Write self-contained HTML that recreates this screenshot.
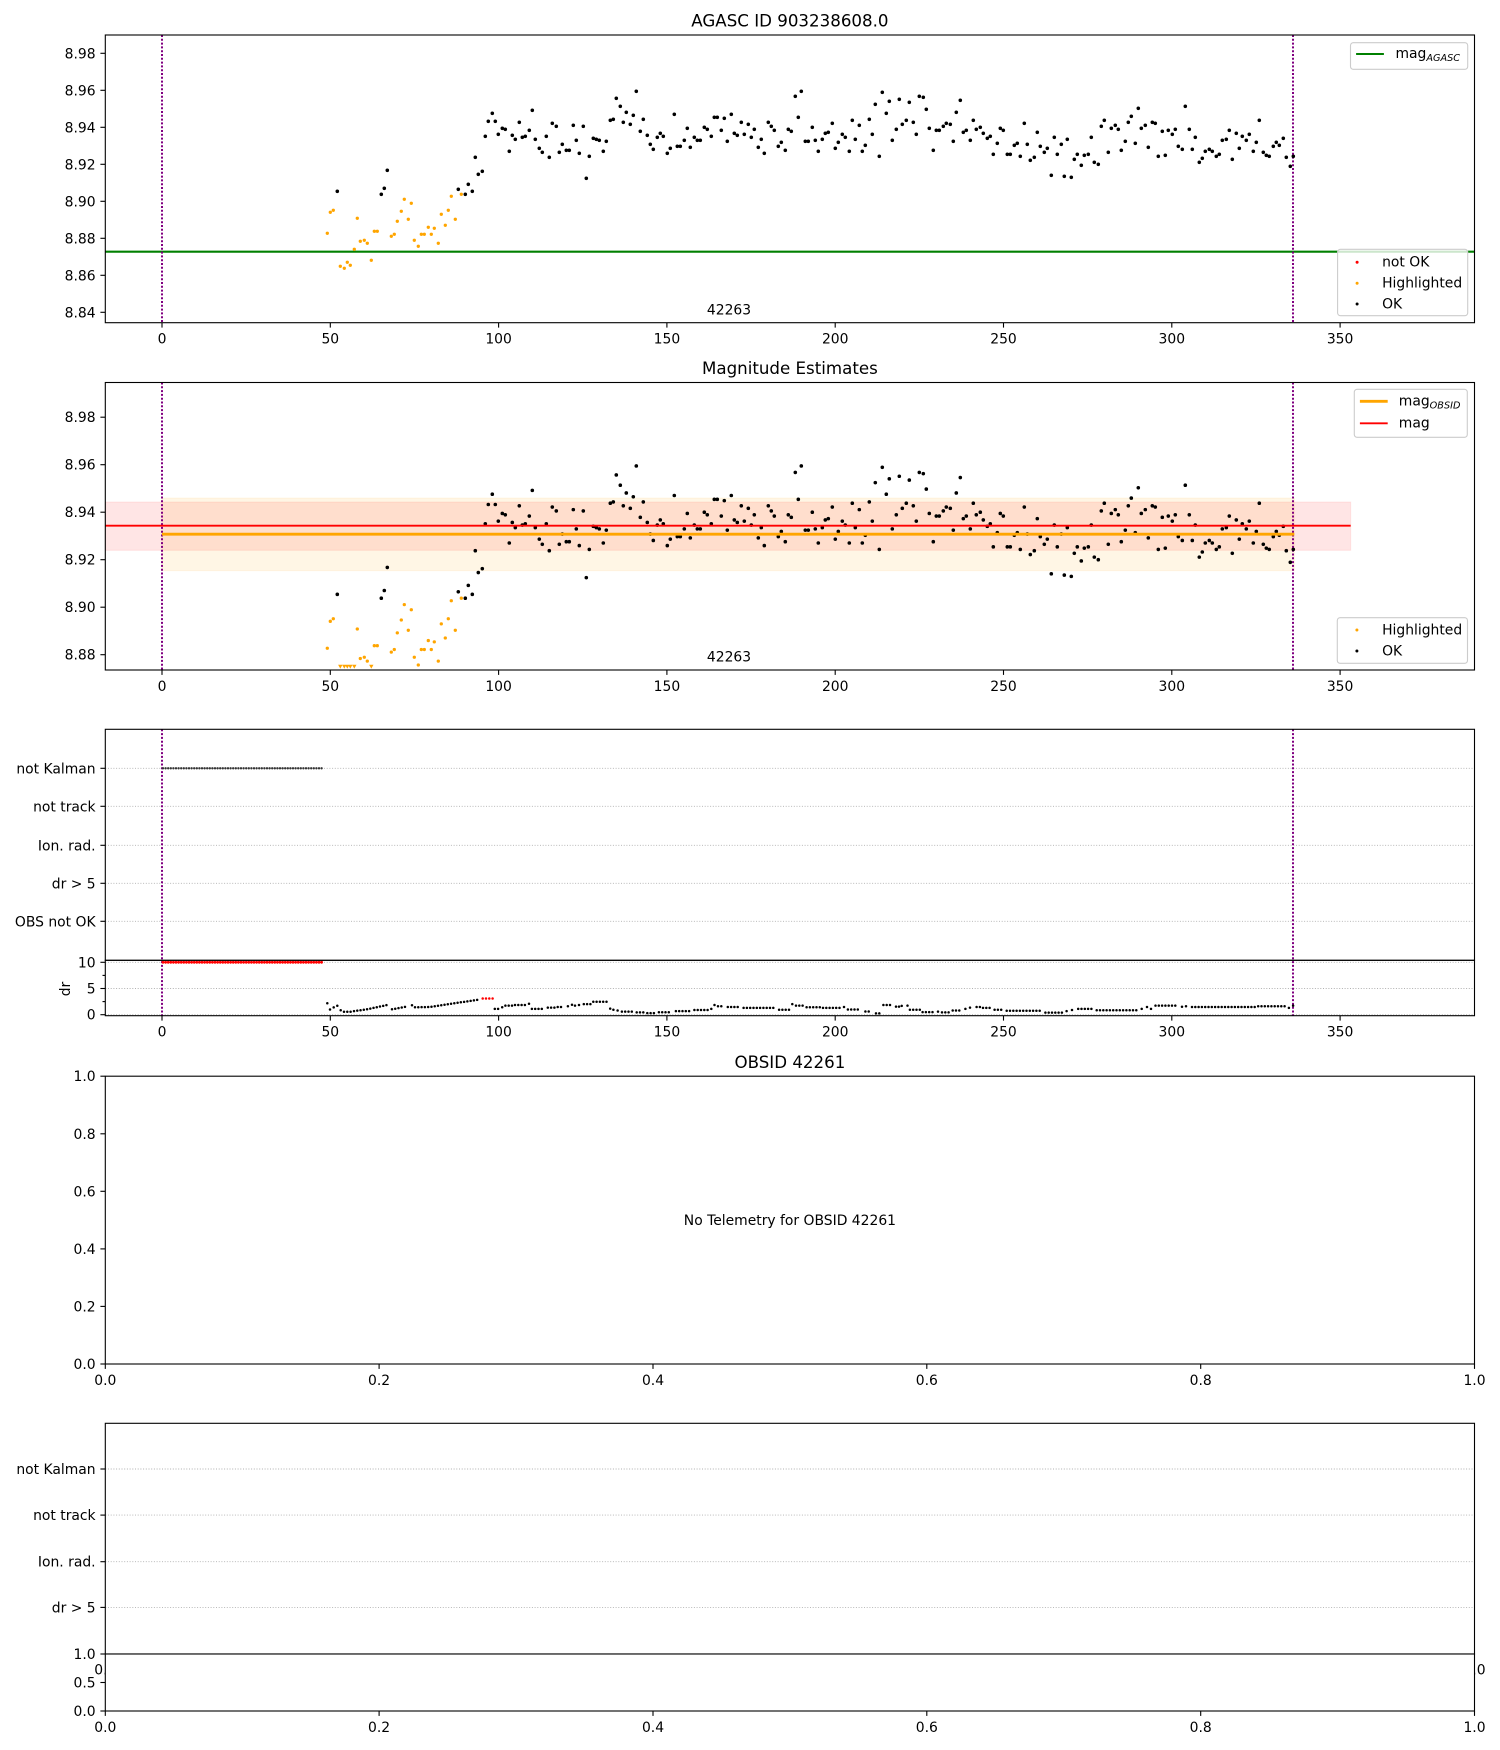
<!DOCTYPE html>
<html><head><meta charset="utf-8">
<style>
html,body{margin:0;padding:0;background:#fff;}
svg{display:block;}
text{font-family:"DejaVu Sans","Liberation Sans",sans-serif;font-size:13.9px;fill:#000;}
.t{font-size:16.67px;text-anchor:middle;}
.yl{text-anchor:end;}
.xl{text-anchor:middle;}
.sp{fill:none;stroke:#000;stroke-width:1.1;}
.tk{stroke:#000;stroke-width:1.1;}
.pv{stroke:#800080;stroke-width:2;stroke-dasharray:2 1.8;}
.gr{stroke:#b0b0b0;stroke-width:0.9;stroke-dasharray:1 1.7;}
.lg{fill:rgba(255,255,255,0.8);stroke:#cccccc;stroke-width:1.1;}
.sub{font-size:9.7px;font-style:italic;}
</style></head><body>
<svg width="1500" height="1750" viewBox="0 0 1500 1750" xmlns="http://www.w3.org/2000/svg">
<rect width="1500" height="1750" fill="#fff"/>

<!-- ================= PLOT 1 ================= -->
<text class="t" x="789.9" y="26.7">AGASC ID 903238608.0</text>
<line x1="105.3" y1="251.7" x2="1474.5" y2="251.7" stroke="#008000" stroke-width="2.1"/>
<line class="pv" x1="162" y1="35" x2="162" y2="322.7"/>
<line class="pv" x1="1293" y1="35" x2="1293" y2="322.7"/>

<g id="p1pts">
<path fill="none" stroke="#FFA500" stroke-width="3.3" stroke-linecap="round" d="M327.3 233.3h0M330.3 212.3h0M333.3 210.3h0M340.3 266.3h0M344.3 268.3h0M347.3 262.3h0M350.3 265.3h0M354.3 249.3h0M357.3 218.3h0M360.3 241.3h0M364.3 240.3h0M367.3 243.3h0M371.3 260.3h0M374.3 231.3h0M377.3 231.3h0M391.3 236.3h0M394.3 234.3h0M397.3 221.3h0M401.3 211.3h0M404.3 199.3h0M408.3 219.3h0M411.3 203.3h0M414.3 240.3h0M418.3 246.3h0M421.3 234.3h0M424.3 234.3h0M428.3 227.3h0M431.3 234.3h0M434.3 228.3h0M438.3 243.3h0M441.3 214.3h0M445.3 225.3h0M448.3 210.3h0M451.3 196.3h0M455.3 219.3h0M461.3 194.3h0"/>
<path fill="none" stroke="#000" stroke-width="3.6" stroke-linecap="round" d="M337.3 191.3h0M381.3 194.3h0M384.3 188.3h0M387.3 170.3h0M458.3 189.3h0M465.3 194.3h0M468.3 184.3h0M472.3 191.3h0M475.3 157.3h0M478.3 174.3h0M482.3 171.3h0M485.3 136.3h0M488.3 121.3h0M492.3 113.3h0M495.3 121.3h0M498.3 134.3h0M502.3 128.3h0M505.3 129.3h0M509.3 151.3h0M512.3 135.3h0M515.3 139.3h0M519.3 122.3h0M522.3 137.3h0M525.3 136.3h0M529.3 130.3h0M532.3 110.3h0M535.3 139.3h0M539.3 148.3h0M542.3 152.3h0M546.3 136.3h0M549.3 157.3h0M552.3 123.3h0M556.3 126.3h0M559.3 152.3h0M562.3 144.3h0M566.3 150.3h0M569.3 150.3h0M573.3 125.3h0M576.3 140.3h0M579.3 153.3h0M583.3 126.3h0M586.3 178.3h0M589.3 156.3h0M593.3 138.3h0M596.3 139.3h0M599.3 140.3h0M603.3 151.3h0M606.3 141.3h0M610.3 120.3h0M613.3 119.3h0M616.3 98.3h0M620.3 106.3h0M623.3 122.3h0M626.3 112.3h0M630.3 124.3h0M633.3 115.3h0M636.3 91.3h0M640.3 131.3h0M643.3 119.3h0M647.3 135.3h0M650.3 144.3h0M653.3 149.3h0M657.3 137.3h0M660.3 133.3h0M663.3 136.3h0M667.3 153.3h0M670.3 148.3h0M674.3 114.3h0M677.3 146.3h0M680.3 146.3h0M684.3 140.3h0M687.3 128.3h0M690.3 147.3h0M694.3 137.3h0M697.3 140.3h0M700.3 140.3h0M704.3 127.3h0M707.3 129.3h0M711.3 136.3h0M714.3 117.3h0M717.3 117.3h0M721.3 130.3h0M724.3 118.3h0M727.3 141.3h0M731.3 114.3h0M734.3 133.3h0M737.3 135.3h0M741.3 122.3h0M744.3 134.3h0M748.3 124.3h0M751.3 137.3h0M754.3 129.3h0M758.3 147.3h0M761.3 139.3h0M764.3 153.3h0M768.3 122.3h0M771.3 126.3h0M774.3 130.3h0M778.3 146.3h0M781.3 142.3h0M785.3 150.3h0M788.3 129.3h0M791.3 131.3h0M795.3 96.3h0M798.3 117.3h0M801.3 91.3h0M805.3 141.3h0M808.3 141.3h0M812.3 127.3h0M815.3 140.3h0M818.3 151.3h0M822.3 139.3h0M825.3 133.3h0M828.3 132.3h0M832.3 123.3h0M835.3 148.3h0M838.3 142.3h0M842.3 134.3h0M845.3 137.3h0M849.3 151.3h0M852.3 120.3h0M855.3 139.3h0M859.3 125.3h0M862.3 151.3h0M865.3 145.3h0M869.3 119.3h0M872.3 134.3h0M875.3 104.3h0M879.3 156.3h0M882.3 92.3h0M886.3 113.3h0M889.3 101.3h0M892.3 140.3h0M896.3 129.3h0M899.3 99.3h0M902.3 124.3h0M906.3 120.3h0M909.3 102.3h0M913.3 122.3h0M916.3 134.3h0M919.3 96.3h0M923.3 97.3h0M926.3 109.3h0M929.3 128.3h0M933.3 150.3h0M936.3 130.3h0M939.3 130.3h0M943.3 126.3h0M946.3 123.3h0M950.3 124.3h0M953.3 141.3h0M956.3 112.3h0M960.3 100.3h0M963.3 132.3h0M966.3 130.3h0M970.3 140.3h0M973.3 120.3h0M976.3 129.3h0M980.3 127.3h0M983.3 133.3h0M987.3 138.3h0M990.3 136.3h0M993.3 154.3h0M997.3 143.3h0M1000.3 128.3h0M1003.3 130.3h0M1007.3 154.3h0M1010.3 154.3h0M1014.3 145.3h0M1017.3 143.3h0M1020.3 156.3h0M1024.3 123.3h0M1027.3 144.3h0M1030.3 160.3h0M1034.3 157.3h0M1037.3 132.3h0M1040.3 146.3h0M1044.3 152.3h0M1047.3 148.3h0M1051.3 175.3h0M1054.3 137.3h0M1057.3 154.3h0M1061.3 144.3h0M1064.3 176.3h0M1067.3 139.3h0M1071.3 177.3h0M1074.3 159.3h0M1077.3 154.3h0M1081.3 165.3h0M1084.3 155.3h0M1088.3 154.3h0M1091.3 137.3h0M1094.3 162.3h0M1098.3 164.3h0M1101.3 126.3h0M1104.3 120.3h0M1108.3 152.3h0M1111.3 128.3h0M1115.3 125.3h0M1118.3 129.3h0M1121.3 150.3h0M1125.3 141.3h0M1128.3 122.3h0M1131.3 116.3h0M1135.3 143.3h0M1138.3 108.3h0M1141.3 128.3h0M1145.3 125.3h0M1148.3 147.3h0M1152.3 122.3h0M1155.3 123.3h0M1158.3 156.3h0M1162.3 131.3h0M1165.3 155.3h0M1168.3 130.3h0M1172.3 134.3h0M1175.3 129.3h0M1178.3 146.3h0M1182.3 149.3h0M1185.3 106.3h0M1189.3 129.3h0M1192.3 149.3h0M1195.3 137.3h0M1199.3 162.3h0M1202.3 158.3h0M1205.3 151.3h0M1209.3 149.3h0M1212.3 151.3h0M1216.3 156.3h0M1219.3 154.3h0M1222.3 140.3h0M1226.3 139.3h0M1229.3 130.3h0M1232.3 159.3h0M1236.3 133.3h0M1239.3 148.3h0M1242.3 136.3h0M1246.3 140.3h0M1249.3 134.3h0M1253.3 151.3h0M1256.3 142.3h0M1259.3 120.3h0M1263.3 152.3h0M1266.3 155.3h0M1269.3 156.3h0M1273.3 146.3h0M1276.3 142.3h0M1279.3 145.3h0M1283.3 138.3h0M1286.3 157.3h0M1290.3 166.3h0M1293.3 156.3h0"/>
</g>

<text class="xl" x="729" y="314.3">42263</text>
<rect class="sp" x="105.3" y="35" width="1369.2" height="287.7"/>
<g class="tk">
<line x1="100.4" y1="312.3" x2="105.3" y2="312.3"/><line x1="100.4" y1="275.3" x2="105.3" y2="275.3"/><line x1="100.4" y1="238.3" x2="105.3" y2="238.3"/><line x1="100.4" y1="201.3" x2="105.3" y2="201.3"/><line x1="100.4" y1="164.3" x2="105.3" y2="164.3"/><line x1="100.4" y1="127.3" x2="105.3" y2="127.3"/><line x1="100.4" y1="90.3" x2="105.3" y2="90.3"/><line x1="100.4" y1="53.3" x2="105.3" y2="53.3"/>
<line x1="162" y1="322.7" x2="162" y2="327.6"/><line x1="330.3" y1="322.7" x2="330.3" y2="327.6"/><line x1="498.6" y1="322.7" x2="498.6" y2="327.6"/><line x1="666.9" y1="322.7" x2="666.9" y2="327.6"/><line x1="835.2" y1="322.7" x2="835.2" y2="327.6"/><line x1="1003.5" y1="322.7" x2="1003.5" y2="327.6"/><line x1="1171.8" y1="322.7" x2="1171.8" y2="327.6"/><line x1="1340.1" y1="322.7" x2="1340.1" y2="327.6"/>
</g>
<text class="yl" x="95.6" y="317.3">8.84</text><text class="yl" x="95.6" y="280.3">8.86</text><text class="yl" x="95.6" y="243.3">8.88</text><text class="yl" x="95.6" y="206.3">8.90</text><text class="yl" x="95.6" y="169.3">8.92</text><text class="yl" x="95.6" y="132.3">8.94</text><text class="yl" x="95.6" y="95.3">8.96</text><text class="yl" x="95.6" y="58.3">8.98</text>
<text class="xl" x="162" y="343.5">0</text><text class="xl" x="330.3" y="343.5">50</text><text class="xl" x="498.6" y="343.5">100</text><text class="xl" x="666.9" y="343.5">150</text><text class="xl" x="835.2" y="343.5">200</text><text class="xl" x="1003.5" y="343.5">250</text><text class="xl" x="1171.8" y="343.5">300</text><text class="xl" x="1340.1" y="343.5">350</text>
<rect class="lg" x="1350.5" y="42.7" width="117.2" height="26.6" rx="2.8"/>
<line x1="1356.1" y1="54" x2="1383.9" y2="54" stroke="#008000" stroke-width="2.1"/>
<text x="1395.5" y="58">mag<tspan class="sub" dy="3">AGASC</tspan></text>
<rect class="lg" x="1337.6" y="249.3" width="130.1" height="66.4" rx="2.8"/>
<path d="M1357.1 262.3h0" stroke="#ff0000" stroke-width="3" stroke-linecap="round"/>
<path d="M1357.1 283.3h0" stroke="#FFA500" stroke-width="3" stroke-linecap="round"/>
<path d="M1357.1 304h0" stroke="#000" stroke-width="3" stroke-linecap="round"/>
<text x="1382.1" y="266.7">not OK</text>
<text x="1382.1" y="287.3">Highlighted</text>
<text x="1382.1" y="308.3">OK</text>

<!-- ================= PLOT 2 ================= -->
<text class="t" x="789.9" y="374.2">Magnitude Estimates</text>
<rect x="105.3" y="502" width="1245.4" height="48.3" fill="rgba(255,0,0,0.1)" stroke="rgba(255,0,0,0.08)" stroke-width="1"/>
<rect x="162" y="498" width="1132.3" height="72.7" fill="rgba(255,165,0,0.1)" stroke="rgba(255,165,0,0.08)" stroke-width="1"/>
<line class="pv" x1="162" y1="382.5" x2="162" y2="670"/>
<line class="pv" x1="1293" y1="382.5" x2="1293" y2="670"/>
<g transform="matrix(1 0 0 1.28378 0 348.77)">
<path fill="none" stroke="#FFA500" stroke-width="3.3" stroke-linecap="round" vector-effect="non-scaling-stroke" d="M327.3 233.3h0M330.3 212.3h0M333.3 210.3h0M357.3 218.3h0M360.3 241.3h0M364.3 240.3h0M367.3 243.3h0M374.3 231.3h0M377.3 231.3h0M391.3 236.3h0M394.3 234.3h0M397.3 221.3h0M401.3 211.3h0M404.3 199.3h0M408.3 219.3h0M411.3 203.3h0M414.3 240.3h0M418.3 246.3h0M421.3 234.3h0M424.3 234.3h0M428.3 227.3h0M431.3 234.3h0M434.3 228.3h0M438.3 243.3h0M441.3 214.3h0M445.3 225.3h0M448.3 210.3h0M451.3 196.3h0M455.3 219.3h0M461.3 194.3h0"/>
<path fill="none" stroke="#000" stroke-width="3.6" stroke-linecap="round" vector-effect="non-scaling-stroke" d="M337.3 191.3h0M381.3 194.3h0M384.3 188.3h0M387.3 170.3h0M458.3 189.3h0M465.3 194.3h0M468.3 184.3h0M472.3 191.3h0M475.3 157.3h0M478.3 174.3h0M482.3 171.3h0M485.3 136.3h0M488.3 121.3h0M492.3 113.3h0M495.3 121.3h0M498.3 134.3h0M502.3 128.3h0M505.3 129.3h0M509.3 151.3h0M512.3 135.3h0M515.3 139.3h0M519.3 122.3h0M522.3 137.3h0M525.3 136.3h0M529.3 130.3h0M532.3 110.3h0M535.3 139.3h0M539.3 148.3h0M542.3 152.3h0M546.3 136.3h0M549.3 157.3h0M552.3 123.3h0M556.3 126.3h0M559.3 152.3h0M562.3 144.3h0M566.3 150.3h0M569.3 150.3h0M573.3 125.3h0M576.3 140.3h0M579.3 153.3h0M583.3 126.3h0M586.3 178.3h0M589.3 156.3h0M593.3 138.3h0M596.3 139.3h0M599.3 140.3h0M603.3 151.3h0M606.3 141.3h0M610.3 120.3h0M613.3 119.3h0M616.3 98.3h0M620.3 106.3h0M623.3 122.3h0M626.3 112.3h0M630.3 124.3h0M633.3 115.3h0M636.3 91.3h0M640.3 131.3h0M643.3 119.3h0M647.3 135.3h0M650.3 144.3h0M653.3 149.3h0M657.3 137.3h0M660.3 133.3h0M663.3 136.3h0M667.3 153.3h0M670.3 148.3h0M674.3 114.3h0M677.3 146.3h0M680.3 146.3h0M684.3 140.3h0M687.3 128.3h0M690.3 147.3h0M694.3 137.3h0M697.3 140.3h0M700.3 140.3h0M704.3 127.3h0M707.3 129.3h0M711.3 136.3h0M714.3 117.3h0M717.3 117.3h0M721.3 130.3h0M724.3 118.3h0M727.3 141.3h0M731.3 114.3h0M734.3 133.3h0M737.3 135.3h0M741.3 122.3h0M744.3 134.3h0M748.3 124.3h0M751.3 137.3h0M754.3 129.3h0M758.3 147.3h0M761.3 139.3h0M764.3 153.3h0M768.3 122.3h0M771.3 126.3h0M774.3 130.3h0M778.3 146.3h0M781.3 142.3h0M785.3 150.3h0M788.3 129.3h0M791.3 131.3h0M795.3 96.3h0M798.3 117.3h0M801.3 91.3h0M805.3 141.3h0M808.3 141.3h0M812.3 127.3h0M815.3 140.3h0M818.3 151.3h0M822.3 139.3h0M825.3 133.3h0M828.3 132.3h0M832.3 123.3h0M835.3 148.3h0M838.3 142.3h0M842.3 134.3h0M845.3 137.3h0M849.3 151.3h0M852.3 120.3h0M855.3 139.3h0M859.3 125.3h0M862.3 151.3h0M865.3 145.3h0M869.3 119.3h0M872.3 134.3h0M875.3 104.3h0M879.3 156.3h0M882.3 92.3h0M886.3 113.3h0M889.3 101.3h0M892.3 140.3h0M896.3 129.3h0M899.3 99.3h0M902.3 124.3h0M906.3 120.3h0M909.3 102.3h0M913.3 122.3h0M916.3 134.3h0M919.3 96.3h0M923.3 97.3h0M926.3 109.3h0M929.3 128.3h0M933.3 150.3h0M936.3 130.3h0M939.3 130.3h0M943.3 126.3h0M946.3 123.3h0M950.3 124.3h0M953.3 141.3h0M956.3 112.3h0M960.3 100.3h0M963.3 132.3h0M966.3 130.3h0M970.3 140.3h0M973.3 120.3h0M976.3 129.3h0M980.3 127.3h0M983.3 133.3h0M987.3 138.3h0M990.3 136.3h0M993.3 154.3h0M997.3 143.3h0M1000.3 128.3h0M1003.3 130.3h0M1007.3 154.3h0M1010.3 154.3h0M1014.3 145.3h0M1017.3 143.3h0M1020.3 156.3h0M1024.3 123.3h0M1027.3 144.3h0M1030.3 160.3h0M1034.3 157.3h0M1037.3 132.3h0M1040.3 146.3h0M1044.3 152.3h0M1047.3 148.3h0M1051.3 175.3h0M1054.3 137.3h0M1057.3 154.3h0M1061.3 144.3h0M1064.3 176.3h0M1067.3 139.3h0M1071.3 177.3h0M1074.3 159.3h0M1077.3 154.3h0M1081.3 165.3h0M1084.3 155.3h0M1088.3 154.3h0M1091.3 137.3h0M1094.3 162.3h0M1098.3 164.3h0M1101.3 126.3h0M1104.3 120.3h0M1108.3 152.3h0M1111.3 128.3h0M1115.3 125.3h0M1118.3 129.3h0M1121.3 150.3h0M1125.3 141.3h0M1128.3 122.3h0M1131.3 116.3h0M1135.3 143.3h0M1138.3 108.3h0M1141.3 128.3h0M1145.3 125.3h0M1148.3 147.3h0M1152.3 122.3h0M1155.3 123.3h0M1158.3 156.3h0M1162.3 131.3h0M1165.3 155.3h0M1168.3 130.3h0M1172.3 134.3h0M1175.3 129.3h0M1178.3 146.3h0M1182.3 149.3h0M1185.3 106.3h0M1189.3 129.3h0M1192.3 149.3h0M1195.3 137.3h0M1199.3 162.3h0M1202.3 158.3h0M1205.3 151.3h0M1209.3 149.3h0M1212.3 151.3h0M1216.3 156.3h0M1219.3 154.3h0M1222.3 140.3h0M1226.3 139.3h0M1229.3 130.3h0M1232.3 159.3h0M1236.3 133.3h0M1239.3 148.3h0M1242.3 136.3h0M1246.3 140.3h0M1249.3 134.3h0M1253.3 151.3h0M1256.3 142.3h0M1259.3 120.3h0M1263.3 152.3h0M1266.3 155.3h0M1269.3 156.3h0M1273.3 146.3h0M1276.3 142.3h0M1279.3 145.3h0M1283.3 138.3h0M1286.3 157.3h0M1290.3 166.3h0M1293.3 156.3h0"/>
</g>
<path fill="#FFA500" d="M338.1 664.8h4.4l-2.2 3.8zM342.1 664.8h4.4l-2.2 3.8zM345.1 664.8h4.4l-2.2 3.8zM348.1 664.8h4.4l-2.2 3.8zM352.1 664.8h4.4l-2.2 3.8zM369.1 664.8h4.4l-2.2 3.8z"/>
<line x1="105.3" y1="525.7" x2="1350.7" y2="525.7" stroke="#ff0000" stroke-width="1.8"/>
<line x1="162" y1="534.2" x2="1294.3" y2="534.2" stroke="#FFA500" stroke-width="2.8"/>
<text class="xl" x="729" y="661.6">42263</text>
<rect class="sp" x="105.3" y="382.5" width="1369.2" height="287.5"/>
<g class="tk">
<line x1="100.4" y1="654.7" x2="105.3" y2="654.7"/><line x1="100.4" y1="607.2" x2="105.3" y2="607.2"/><line x1="100.4" y1="559.7" x2="105.3" y2="559.7"/><line x1="100.4" y1="512.2" x2="105.3" y2="512.2"/><line x1="100.4" y1="464.7" x2="105.3" y2="464.7"/><line x1="100.4" y1="417.2" x2="105.3" y2="417.2"/>
<line x1="162" y1="670" x2="162" y2="674.9"/><line x1="330.3" y1="670" x2="330.3" y2="674.9"/><line x1="498.6" y1="670" x2="498.6" y2="674.9"/><line x1="666.9" y1="670" x2="666.9" y2="674.9"/><line x1="835.2" y1="670" x2="835.2" y2="674.9"/><line x1="1003.5" y1="670" x2="1003.5" y2="674.9"/><line x1="1171.8" y1="670" x2="1171.8" y2="674.9"/><line x1="1340.1" y1="670" x2="1340.1" y2="674.9"/>
</g>
<text class="yl" x="95.6" y="659.7">8.88</text><text class="yl" x="95.6" y="612.2">8.90</text><text class="yl" x="95.6" y="564.7">8.92</text><text class="yl" x="95.6" y="517.2">8.94</text><text class="yl" x="95.6" y="469.7">8.96</text><text class="yl" x="95.6" y="422.2">8.98</text>
<text class="xl" x="162" y="690.8">0</text><text class="xl" x="330.3" y="690.8">50</text><text class="xl" x="498.6" y="690.8">100</text><text class="xl" x="666.9" y="690.8">150</text><text class="xl" x="835.2" y="690.8">200</text><text class="xl" x="1003.5" y="690.8">250</text><text class="xl" x="1171.8" y="690.8">300</text><text class="xl" x="1340.1" y="690.8">350</text>
<rect class="lg" x="1354.3" y="389.3" width="113" height="48" rx="2.8"/>
<line x1="1359.9" y1="401.3" x2="1387.7" y2="401.3" stroke="#FFA500" stroke-width="2.8"/>
<line x1="1359.9" y1="423.3" x2="1387.7" y2="423.3" stroke="#ff0000" stroke-width="1.8"/>
<text x="1398.8" y="405.3">mag<tspan class="sub" dy="3">OBSID</tspan></text>
<text x="1398.8" y="427.3">mag</text>
<rect class="lg" x="1337.3" y="617.7" width="130.2" height="45.6" rx="2.8"/>
<path d="M1356.9 630h0" stroke="#FFA500" stroke-width="3" stroke-linecap="round"/>
<path d="M1356.9 651h0" stroke="#000" stroke-width="3" stroke-linecap="round"/>
<text x="1382.1" y="634.3">Highlighted</text>
<text x="1382.1" y="655.3">OK</text>

<!-- ================= PLOT 3 ================= -->
<g class="gr">
<line x1="105.3" y1="768.3" x2="1474.5" y2="768.3"/><line x1="105.3" y1="806.3" x2="1474.5" y2="806.3"/><line x1="105.3" y1="845.3" x2="1474.5" y2="845.3"/><line x1="105.3" y1="883.3" x2="1474.5" y2="883.3"/><line x1="105.3" y1="921.3" x2="1474.5" y2="921.3"/>
<line x1="105.3" y1="962.3" x2="1474.5" y2="962.3"/><line x1="105.3" y1="988.5" x2="1474.5" y2="988.5"/><line x1="105.3" y1="1014.7" x2="1474.5" y2="1014.7"/>
</g>
<line class="pv" x1="162" y1="729.3" x2="162" y2="1015.7"/>
<line class="pv" x1="1293" y1="729.3" x2="1293" y2="1015.7"/>
<line x1="163" y1="768.3" x2="324" y2="768.3" stroke="#333" stroke-width="2.4" stroke-linecap="round" stroke-dasharray="0 2.6"/>
<line x1="163" y1="962.3" x2="324" y2="962.3" stroke="#ff0000" stroke-width="2.8" stroke-linecap="round" stroke-dasharray="0 2.6"/>
<path fill="none" stroke="#000" stroke-width="2.5" stroke-linecap="round" d="M327.3 1003.2h0M330 1009.5h0M333.7 1007.4h0M337.3 1005.8h0M340.7 1010.3h0M412 1005.2h0M502.2 1007.3h0M529 1003.7h0M567.9 1006.3h0M572 1004.7h0M575 1005.6h0M579 1005h0M610.2 1008.6h0M613.4 1009.8h0M617.6 1010.5h0M711.3 1008.9h0M714.5 1005h0M792.3 1004.1h0M844 1007h0M896 1006.6h0M899 1006.6h0M901.7 1005.9h0M907.5 1005.6h0M938 1011.6h0M965.4 1008.9h0M970 1007.6h0M1066.6 1011.1h0M1072 1010h0M1141.7 1008.9h0M1147 1007h0M1151 1008.9h0M1182 1006.8h0M1186 1006.3h0M1288.9 1007.9h0M1293.1 1005.6h0"/>
<path fill="none" stroke="#000" stroke-width="2.5" stroke-linecap="round" stroke-dasharray="0 3.3" d="M344 1011.7L351 1011.7M354 1011.1L367 1009.3L387 1005M392 1009.3L408 1006.3M415 1007.3L430 1007L480 999.4M494.8 1008.9L498.5 1008.9M505.4 1005.6L512 1005.6M515 1005L525.6 1005M531.9 1008.9L543.5 1008.9M547.8 1007.6L554.4 1007.6M557.7 1007L564.3 1007M583.8 1004.1L590.4 1004.1M593.3 1001.8L607 1001.8M621.9 1011.6L633 1011.6M636.7 1012.4L644 1012.4M647.3 1013.1L655 1013.1M658.9 1012.3L672 1012.3M675.9 1011.1L691 1011.1M694.4 1010L708 1010M718 1006.3L724.6 1006.3M727.8 1007L740 1007M743.6 1007.9L776 1007.9M779.1 1009.8L789 1009.8M796 1005.6L803 1005.6M806.6 1007.3L819.8 1007.3M823 1007.9L840 1007.9M847.9 1009.5L861 1009.5M865.4 1011.5L872 1011.5M876 1013.4L880 1013.4M883.4 1005L893 1005M909.9 1009.7L920 1009.7M922.6 1012.1L935 1012.1M942 1012.4L949 1012.4M952.7 1010.5L962 1010.5M976.6 1007L980 1007M983 1007.9L991 1007.9M994.6 1009.7L1004 1009.7M1006.7 1010.8L1042 1010.8M1045.4 1012.6L1063 1012.6M1078.2 1008.9L1094 1008.9M1096.7 1010.2L1139 1010.2M1155.5 1005.6L1178 1005.6M1192 1007L1255 1007M1258.2 1006.3L1285 1006.3"/>
<path fill="none" stroke="#ff0000" stroke-width="2.5" stroke-linecap="round" stroke-dasharray="0 3.3" d="M482.7 998.5L492.7 998.5"/>
<rect class="sp" x="105.3" y="729.3" width="1369.2" height="231"/>
<rect class="sp" x="105.3" y="960.3" width="1369.2" height="55.4"/>
<g class="tk">
<line x1="100.4" y1="768.3" x2="105.3" y2="768.3"/><line x1="100.4" y1="806.3" x2="105.3" y2="806.3"/><line x1="100.4" y1="845.3" x2="105.3" y2="845.3"/><line x1="100.4" y1="883.3" x2="105.3" y2="883.3"/><line x1="100.4" y1="921.3" x2="105.3" y2="921.3"/>
<line x1="100.4" y1="962.3" x2="105.3" y2="962.3"/><line x1="100.4" y1="988.5" x2="105.3" y2="988.5"/><line x1="100.4" y1="1014.7" x2="105.3" y2="1014.7"/>
<line x1="102.5" y1="975.4" x2="105.3" y2="975.4"/><line x1="102.5" y1="1001.6" x2="105.3" y2="1001.6"/>
<line x1="162" y1="1015.7" x2="162" y2="1020.6"/><line x1="330.3" y1="1015.7" x2="330.3" y2="1020.6"/><line x1="498.6" y1="1015.7" x2="498.6" y2="1020.6"/><line x1="666.9" y1="1015.7" x2="666.9" y2="1020.6"/><line x1="835.2" y1="1015.7" x2="835.2" y2="1020.6"/><line x1="1003.5" y1="1015.7" x2="1003.5" y2="1020.6"/><line x1="1171.8" y1="1015.7" x2="1171.8" y2="1020.6"/><line x1="1340.1" y1="1015.7" x2="1340.1" y2="1020.6"/>
</g>
<text class="yl" x="95.6" y="773.3">not Kalman</text>
<text class="yl" x="95.6" y="811.3">not track</text>
<text class="yl" x="95.6" y="850.3">Ion. rad.</text>
<text class="yl" x="95.6" y="888.3">dr &gt; 5</text>
<text class="yl" x="95.6" y="926.3">OBS not OK</text>
<text class="yl" x="95.6" y="967.3">10</text>
<text class="yl" x="95.6" y="993.5">5</text>
<text class="yl" x="95.6" y="1019.7">0</text>
<text class="xl" transform="translate(70 989) rotate(-90)" x="0" y="0">dr</text>
<text class="xl" x="162" y="1036.5">0</text><text class="xl" x="330.3" y="1036.5">50</text><text class="xl" x="498.6" y="1036.5">100</text><text class="xl" x="666.9" y="1036.5">150</text><text class="xl" x="835.2" y="1036.5">200</text><text class="xl" x="1003.5" y="1036.5">250</text><text class="xl" x="1171.8" y="1036.5">300</text><text class="xl" x="1340.1" y="1036.5">350</text>

<!-- ================= PLOT 4 ================= -->
<text class="t" x="789.9" y="1067.9">OBSID 42261</text>
<rect class="sp" x="105.3" y="1076.2" width="1369.2" height="287.8"/>
<text class="xl" x="789.9" y="1225">No Telemetry for OBSID 42261</text>
<g class="tk">
<line x1="100.4" y1="1364" x2="105.3" y2="1364"/><line x1="100.4" y1="1306.4" x2="105.3" y2="1306.4"/><line x1="100.4" y1="1248.9" x2="105.3" y2="1248.9"/><line x1="100.4" y1="1191.3" x2="105.3" y2="1191.3"/><line x1="100.4" y1="1133.8" x2="105.3" y2="1133.8"/><line x1="100.4" y1="1076.2" x2="105.3" y2="1076.2"/>
<line x1="105.3" y1="1364" x2="105.3" y2="1368.9"/><line x1="379.1" y1="1364" x2="379.1" y2="1368.9"/><line x1="653" y1="1364" x2="653" y2="1368.9"/><line x1="926.8" y1="1364" x2="926.8" y2="1368.9"/><line x1="1200.7" y1="1364" x2="1200.7" y2="1368.9"/><line x1="1474.5" y1="1364" x2="1474.5" y2="1368.9"/>
</g>
<text class="yl" x="95.6" y="1369">0.0</text><text class="yl" x="95.6" y="1311.4">0.2</text><text class="yl" x="95.6" y="1253.9">0.4</text><text class="yl" x="95.6" y="1196.3">0.6</text><text class="yl" x="95.6" y="1138.8">0.8</text><text class="yl" x="95.6" y="1081.2">1.0</text>
<text class="xl" x="105.3" y="1385">0.0</text><text class="xl" x="379.1" y="1385">0.2</text><text class="xl" x="653" y="1385">0.4</text><text class="xl" x="926.8" y="1385">0.6</text><text class="xl" x="1200.7" y="1385">0.8</text><text class="xl" x="1474.5" y="1385">1.0</text>

<!-- ================= PLOT 5 ================= -->
<g class="gr">
<line x1="105.3" y1="1469" x2="1474.5" y2="1469"/><line x1="105.3" y1="1515.1" x2="1474.5" y2="1515.1"/><line x1="105.3" y1="1561.7" x2="1474.5" y2="1561.7"/><line x1="105.3" y1="1607.4" x2="1474.5" y2="1607.4"/>
</g>
<rect class="sp" x="105.3" y="1423.3" width="1369.2" height="230.7"/>
<g class="tk">
<line x1="100.4" y1="1469" x2="105.3" y2="1469"/><line x1="100.4" y1="1515.1" x2="105.3" y2="1515.1"/><line x1="100.4" y1="1561.7" x2="105.3" y2="1561.7"/><line x1="100.4" y1="1607.4" x2="105.3" y2="1607.4"/>
</g>
<text class="yl" x="95.6" y="1474">not Kalman</text>
<text class="yl" x="95.6" y="1520.1">not track</text>
<text class="yl" x="95.6" y="1566.7">Ion. rad.</text>
<text class="yl" x="95.6" y="1612.4">dr &gt; 5</text>
<text class="xl" x="105.3" y="1674.5">0.0</text>
<text class="xl" x="1474.5" y="1674.5">1.0</text>
<rect x="105.3" y="1654" width="1369.2" height="57" fill="#fff"/>
<rect class="sp" x="105.3" y="1654" width="1369.2" height="57"/>
<g class="tk">
<line x1="100.4" y1="1654" x2="105.3" y2="1654"/><line x1="100.4" y1="1682.5" x2="105.3" y2="1682.5"/><line x1="100.4" y1="1711" x2="105.3" y2="1711"/>
<line x1="105.3" y1="1711" x2="105.3" y2="1715.9"/><line x1="379.1" y1="1711" x2="379.1" y2="1715.9"/><line x1="653" y1="1711" x2="653" y2="1715.9"/><line x1="926.8" y1="1711" x2="926.8" y2="1715.9"/><line x1="1200.7" y1="1711" x2="1200.7" y2="1715.9"/><line x1="1474.5" y1="1711" x2="1474.5" y2="1715.9"/>
</g>
<text class="yl" x="95.6" y="1659">1.0</text><text class="yl" x="95.6" y="1687.5">0.5</text><text class="yl" x="95.6" y="1716">0.0</text>
<text class="xl" x="105.3" y="1732">0.0</text><text class="xl" x="379.1" y="1732">0.2</text><text class="xl" x="653" y="1732">0.4</text><text class="xl" x="926.8" y="1732">0.6</text><text class="xl" x="1200.7" y="1732">0.8</text><text class="xl" x="1474.5" y="1732">1.0</text>
</svg>
</body></html>
